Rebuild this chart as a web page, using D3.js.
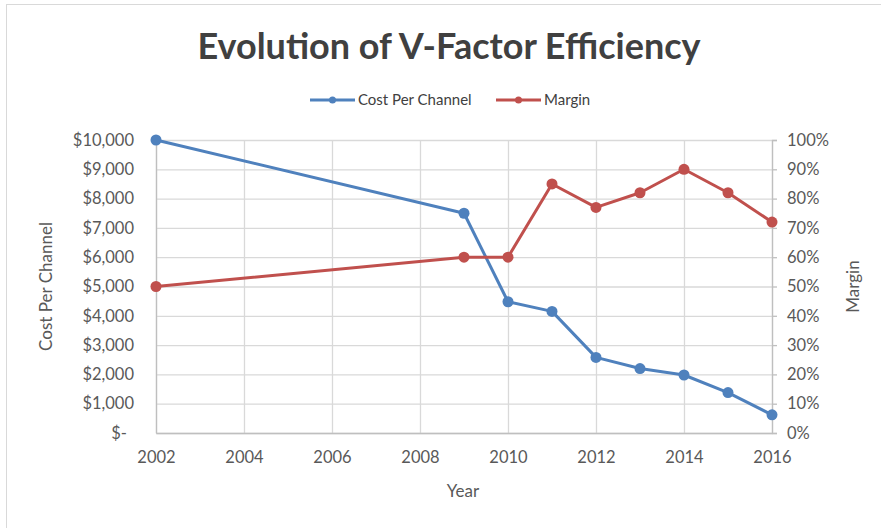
<!DOCTYPE html>
<html><head><meta charset="utf-8">
<script src="https://cdn.jsdelivr.net/npm/d3@7"></script>
<style>
body{margin:0;background:#fff;}
text{font-family:Lato,"Open Sans",sans-serif;}
</style></head>
<body><svg id="c" width="881" height="528"></svg>
<script>
const years = [2002, 2009, 2010, 2011, 2012, 2013, 2014, 2015, 2016];
const costPerChannel = [10000, 7500, 4480, 4150, 2580, 2200, 1980, 1380, 620];
const margin = [0.50, 0.60, 0.60, 0.85, 0.77, 0.82, 0.90, 0.82, 0.72];
const xTicks = [2002, 2004, 2006, 2008, 2010, 2012, 2014, 2016];
const leftTicks = [0, 1000, 2000, 3000, 4000, 5000, 6000, 7000, 8000, 9000, 10000];
const rightTicks = [0, 0.1, 0.2, 0.3, 0.4, 0.5, 0.6, 0.7, 0.8, 0.9, 1.0];
const seriesNames = ["Cost Per Channel", "Margin"];
const colors = ["#4F81BD", "#C0504D"];

const svg = d3.select("#c");
svg.append("rect").attr("x",6.5).attr("y",4.5).attr("width",900).attr("height",600)
  .attr("fill","#fff").attr("stroke","#d9d9d9");

const L=156, R=772, T=140, B=433;
const x = d3.scaleLinear().domain([2002,2016]).range([L,R]);
const yL = d3.scaleLinear().domain([0,10000]).range([B,T]);
const yR = d3.scaleLinear().domain([0,1]).range([B,T]);

// gridlines
svg.append("g").selectAll("line").data(leftTicks).join("line")
  .attr("x1",L).attr("x2",R).attr("y1",d=>yL(d)+0.5).attr("y2",d=>yL(d)+0.5)
  .attr("stroke","#d9d9d9").attr("stroke-width",1.3);
svg.append("g").selectAll("line").data(xTicks).join("line")
  .attr("y1",T).attr("y2",B).attr("x1",d=>x(d)+0.5).attr("x2",d=>x(d)+0.5)
  .attr("stroke","#d9d9d9").attr("stroke-width",1.3);

// axes
const fmtL = d => d===0 ? "$-" : "$" + d3.format(",")(d);
const gl = svg.append("g").attr("transform",`translate(${L},0)`)
  .call(d3.axisLeft(yL).tickValues(leftTicks).tickFormat(fmtL).tickSize(0).tickPadding(22));
gl.select(".domain").attr("stroke","#bfbfbf").attr("stroke-width",1.3);
gl.selectAll("text").attr("font-size",16.5).attr("fill","#595959")
  .attr("dx", d=> d===0 ? -7 : 0);

const gr = svg.append("g").attr("transform",`translate(${R},0)`)
  .call(d3.axisRight(yR).tickValues(rightTicks).tickFormat(d3.format(".0%")).tickSize(5).tickPadding(10));
gr.select(".domain").attr("stroke","#bfbfbf").attr("stroke-width",1.3);
gr.selectAll("line").attr("stroke","#bfbfbf").attr("stroke-width",1.3);
gr.selectAll("text").attr("font-size",16.5).attr("fill","#595959");

const gx = svg.append("g").attr("transform",`translate(0,${B})`)
  .call(d3.axisBottom(x).tickValues(xTicks).tickFormat(d3.format("d")).tickSize(0).tickPadding(18));
gx.select(".domain").attr("stroke","#bfbfbf").attr("stroke-width",1.3);
gx.selectAll("text").attr("font-size",16.5).attr("fill","#595959");

// axis titles
svg.append("text").attr("transform",`translate(52,${(T+B)/2}) rotate(-90)`)
  .attr("text-anchor","middle").attr("font-size",17).attr("fill","#595959").text("Cost Per Channel");
svg.append("text").attr("transform",`translate(859,${(T+B)/2}) rotate(-90)`)
  .attr("text-anchor","middle").attr("font-size",17).attr("fill","#595959").text("Margin");
svg.append("text").attr("x",463).attr("y",497)
  .attr("text-anchor","middle").attr("font-size",17).attr("fill","#595959").text("Year");

// title
svg.append("text").attr("x",449).attr("y",59).attr("text-anchor","middle")
  .attr("font-size",36).attr("font-weight","bold").attr("fill","#404040")
  .text("Evolution of V-Factor Efficiency");

// series
const series = [
  {vals: costPerChannel, y: yL, c: colors[0]},
  {vals: margin, y: yR, c: colors[1]}
];
series.forEach(s=>{
  const pts = years.map((yr,i)=>[x(yr), s.y(s.vals[i])]);
  svg.append("path").attr("d", d3.line()(pts)).attr("fill","none")
    .attr("stroke",s.c).attr("stroke-width",3).attr("stroke-linejoin","round");
  svg.append("g").selectAll("circle").data(pts).join("circle")
    .attr("cx",d=>d[0]).attr("cy",d=>d[1]).attr("r",5.5).attr("fill",s.c);
});

// legend
const legend = [{x:310, w:45, tx:358}, {x:496, w:45, tx:544}];
legend.forEach((lg,i)=>{
  const g = svg.append("g");
  g.append("line").attr("x1",lg.x).attr("x2",lg.x+lg.w).attr("y1",100).attr("y2",100)
    .attr("stroke",colors[i]).attr("stroke-width",3);
  g.append("circle").attr("cx",lg.x+lg.w/2).attr("cy",100).attr("r",3.5).attr("fill",colors[i]);
  g.append("text").attr("x",lg.tx).attr("y",105).attr("font-size",15).attr("fill","#404040")
    .text(seriesNames[i]);
});
</script></body></html>
